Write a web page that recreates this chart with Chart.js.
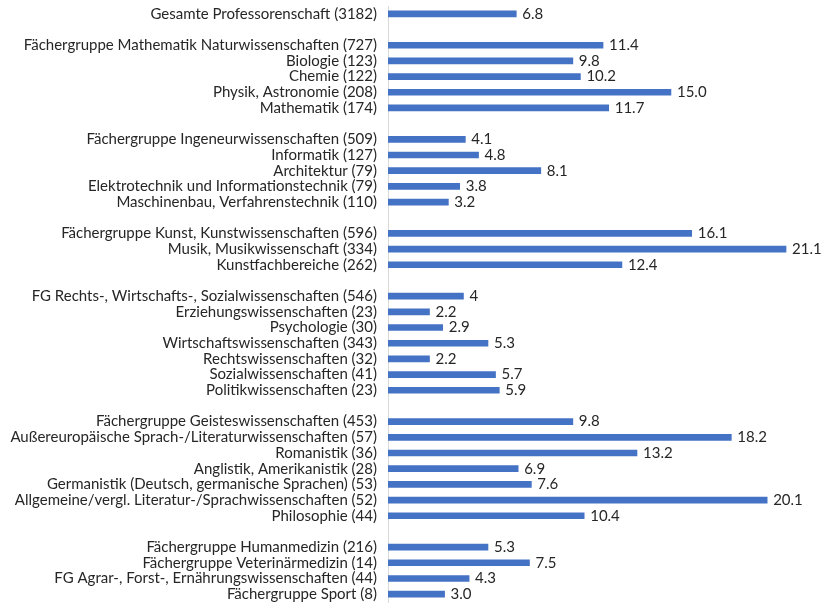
<!DOCTYPE html>
<html lang="de">
<head>
  <meta charset="utf-8">
  <title>Professorenschaft nach Fächergruppen</title>
  <script src="https://cdn.jsdelivr.net/npm/chart.js@4/dist/chart.umd.min.js"></script>
  <style>
    body { margin:0; background:#fff; }
    #wrap { width:826px; height:604px; position:relative; }
  </style>
</head>
<body>
  <div id="wrap"><canvas id="c"></canvas></div>
  <script>
    // data (blank rows are spacers between groups)
    const categories = [
      'Gesamte Professorenschaft (3182)',
      '',
      'Fächergruppe Mathematik Naturwissenschaften (727)',
      'Biologie (123)',
      'Chemie (122)',
      'Physik, Astronomie (208)',
      'Mathematik (174)',
      '',
      'Fächergruppe Ingeneurwissenschaften (509)',
      'Informatik (127)',
      'Architektur (79)',
      'Elektrotechnik und Informationstechnik (79)',
      'Maschinenbau, Verfahrenstechnik (110)',
      '',
      'Fächergruppe Kunst, Kunstwissenschaften (596)',
      'Musik, Musikwissenschaft (334)',
      'Kunstfachbereiche (262)',
      '',
      'FG Rechts-, Wirtschafts-, Sozialwissenschaften (546)',
      'Erziehungswissenschaften (23)',
      'Psychologie (30)',
      'Wirtschaftswissenschaften (343)',
      'Rechtswissenschaften (32)',
      'Sozialwissenschaften (41)',
      'Politikwissenschaften (23)',
      '',
      'Fächergruppe Geisteswissenschaften (453)',
      'Außereuropäische Sprach-/Literaturwissenschaften (57)',
      'Romanistik (36)',
      'Anglistik, Amerikanistik (28)',
      'Germanistik (Deutsch, germanische Sprachen) (53)',
      'Allgemeine/vergl. Literatur-/Sprachwissenschaften (52)',
      'Philosophie (44)',
      '',
      'Fächergruppe Humanmedizin (216)',
      'Fächergruppe Veterinärmedizin (14)',
      'FG Agrar-, Forst-, Ernährungswissenschaften (44)',
      'Fächergruppe Sport (8)'
    ];
    const values = [
      6.8, null,
      11.4, 9.8, 10.2, 15.0, 11.7, null,
      4.1, 4.8, 8.1, 3.8, 3.2, null,
      16.1, 21.1, 12.4, null,
      4, 2.2, 2.9, 5.3, 2.2, 5.7, 5.9, null,
      9.8, 18.2, 13.2, 6.9, 7.6, 20.1, 10.4, null,
      5.3, 7.5, 4.3, 3.0
    ];
    const valueLabels = [
      '6.8', '',
      '11.4', '9.8', '10.2', '15.0', '11.7', '',
      '4.1', '4.8', '8.1', '3.8', '3.2', '',
      '16.1', '21.1', '12.4', '',
      '4', '2.2', '2.9', '5.3', '2.2', '5.7', '5.9', '',
      '9.8', '18.2', '13.2', '6.9', '7.6', '20.1', '10.4', '',
      '5.3', '7.5', '4.3', '3.0'
    ];

    const FONT = 'Lato, "Open Sans", sans-serif';

    // value labels next to bar ends
    const barLabels = {
      id: 'barLabels',
      afterDatasetsDraw(chart) {
        const ctx = chart.ctx;
        ctx.save();
        ctx.font = '15px ' + FONT;
        ctx.fillStyle = '#262626';
        ctx.textAlign = 'left';
        ctx.textBaseline = 'middle';
        chart.getDatasetMeta(0).data.forEach((bar, i) => {
          if (values[i] == null) return;
          ctx.fillText(valueLabels[i], bar.x + 6, bar.y);
        });
        ctx.restore();
      }
    };

    new Chart(document.getElementById('c'), {
      type: 'bar',
      data: {
        labels: categories,
        datasets: [{
          data: values,
          backgroundColor: '#4472C4',
          barThickness: 6
        }]
      },
      options: {
        indexAxis: 'y',
        responsive: true,
        maintainAspectRatio: false,
        animation: false,
        layout: { padding: { top: 6, bottom: 2, right: 23, left: 0 } },
        plugins: { legend: { display: false }, tooltip: { enabled: false } },
        scales: {
          x: { display: false, min: 0, max: 22 },
          y: {
            afterFit(scale) {
              scale.width = 388;
              scale.paddingTop = 0;
              scale.paddingBottom = 0;
            },
            grid: { display: false, drawTicks: false },
            border: { color: '#d9d9d9', width: 1 },
            ticks: {
              autoSkip: false,
              padding: 11,
              color: '#262626',
              font: { family: FONT, size: 15 }
            }
          }
        }
      },
      plugins: [barLabels]
    });
  </script>
</body>
</html>
